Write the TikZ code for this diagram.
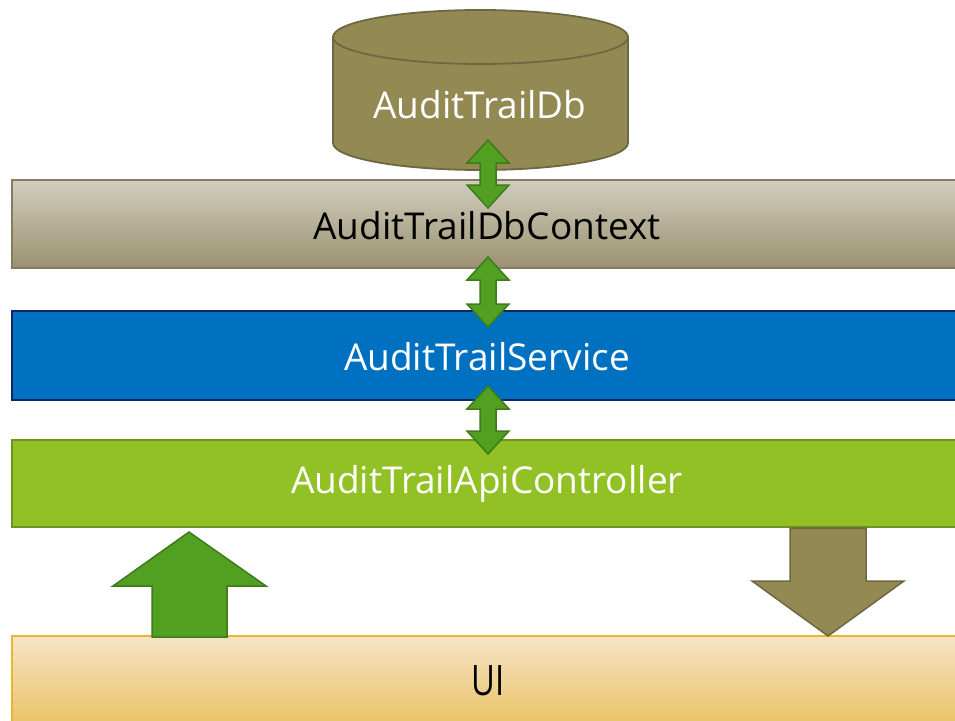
\documentclass[tikz,border=0pt]{standalone}
\usepackage{fontspec}
\setmainfont{Open Sans}
\usetikzlibrary{shapes.geometric}

\definecolor{olive}{HTML}{938953}
\definecolor{oliveedge}{HTML}{6E6842}
\definecolor{ctxtop}{HTML}{D2CDBF}
\definecolor{ctxbot}{HTML}{9A9270}
\definecolor{svcfill}{HTML}{0070C0}
\definecolor{svcedge}{HTML}{0B2A63}
\definecolor{ctlfill}{HTML}{92C125}
\definecolor{ctledge}{HTML}{6F9220}
\definecolor{arrowfill}{HTML}{52A022}
\definecolor{arrowedge}{HTML}{3F7B1C}
\definecolor{uitop}{HTML}{F5E4C6}
\definecolor{uibot}{HTML}{E8C160}
\definecolor{uiedge}{HTML}{E9B630}

\tikzset{
  label text/.style={font=\fontsize{37}{40}\selectfont, inner sep=0pt},
  layer/.style={line width=1.5pt},
  flowarrow/.style={fill=arrowfill, draw=arrowedge, line width=1.5pt, line join=miter},
}

% vertical double-headed block arrow between two y values, centred on x
\newcommand{\dblarrow}[3]{%
  \filldraw[flowarrow]
    (#1,#2) -- (#1+21,#2+23) -- (#1+8,#2+23) -- (#1+8,#3-23) -- (#1+21,#3-23)
    -- (#1,#3) -- (#1-21,#3-23) -- (#1-8,#3-23) -- (#1-8,#2+23) -- (#1-21,#2+23) -- cycle;}

\begin{document}
\begin{tikzpicture}[x=1pt,y=-1pt]
  \useasboundingbox (0,0) rectangle (955,720);
  \clip (0,0) rectangle (955,720);

  % database cylinder: body with rounded bottom, then the top face
  \filldraw[fill=olive, draw=oliveedge, line width=1.8pt]
    (333,37) -- (333,143) arc[start angle=180, end angle=0, x radius=147.5, y radius=27]
    -- (628,37) -- cycle;
  \filldraw[fill=olive, draw=oliveedge, line width=1.8pt]
    (480.5,37) ellipse[x radius=147.5, y radius=27];
  \node[label text, text=white] (db) at (480,105) {AuditTrailDb};

  % layers
  \shade[top color=ctxtop, bottom color=ctxbot] (12,180) rectangle (970,268);
  \draw[layer, draw=ctxbot!85!black] (12,180) rectangle (970,268);
  \node[label text] (ctx) at (487,226) {AuditTrailDbContext};

  \filldraw[layer, fill=svcfill, draw=svcedge, line width=2pt] (12,311) rectangle (970,400);
  \node[label text, text=white] (svc) at (487,357) {AuditTrailService};

  \filldraw[layer, fill=ctlfill, draw=ctledge] (12,440) rectangle (970,527);
  \node[label text, text=white] (ctl) at (487,484) {AuditTrailApiController};

  \shade[top color=uitop, bottom color=uibot] (12,636) rectangle (970,730);
  \draw[layer, draw=uiedge] (12,730) -- (12,636) -- (970,636);
  \node[inner sep=0pt, font=\fontsize{42}{44}\selectfont] (ui) at (488,681) {\scalebox{0.78}[1]{UI}};

  % links between layers
  \dblarrow{488}{140}{208}
  \dblarrow{488}{257}{327}
  \dblarrow{488}{386}{454}

  % request going up from the UI
  \filldraw[flowarrow]
    (189,532) -- (266,586) -- (227,586) -- (227,637) -- (152,637) -- (152,586) -- (113,586) -- cycle;

  % response going down to the UI
  \filldraw[fill=olive, draw=oliveedge, line width=1.5pt]
    (790,528) -- (866,528) -- (866,581) -- (904,581) -- (828,636) -- (752,581) -- (790,581) -- cycle;
\end{tikzpicture}
\end{document}
